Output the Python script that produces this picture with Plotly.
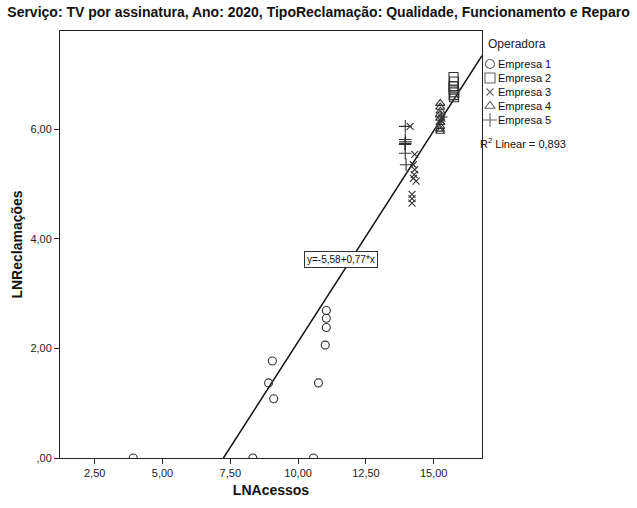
import plotly.graph_objects as go

# LN(acessos) x LN(reclamações) por operadora
empresa1_x = [3.92, 8.33, 10.57, 9.05, 8.91, 9.10, 10.75, 11.00, 11.04, 11.04, 11.04]
empresa1_y = [0.00, 0.00, 0.00, 1.77, 1.37, 1.08, 1.37, 2.06, 2.38, 2.55, 2.69]

empresa2_x = [15.73, 15.75, 15.72, 15.74, 15.76, 15.73, 15.75]
empresa2_y = [6.95, 6.87, 6.78, 6.72, 6.67, 6.62, 6.58]

empresa3_x = [14.13, 14.30, 14.25, 14.30, 14.28, 14.35, 14.25, 14.20, 14.20, 14.20, 15.30, 15.28]
empresa3_y = [6.05, 5.54, 5.35, 5.26, 5.17, 5.05, 5.10, 4.81, 4.73, 4.65, 6.20, 6.15]

empresa4_x = [15.24, 15.24, 15.25, 15.23, 15.24, 15.25, 15.24, 15.23, 15.24]
empresa4_y = [6.47, 6.40, 6.33, 6.27, 6.20, 6.12, 6.05, 6.00, 5.96]

empresa5_x = [13.95, 13.95, 13.96, 13.95, 13.94, 13.95, 13.98, 15.28]
empresa5_y = [6.05, 5.81, 5.77, 5.74, 5.72, 5.56, 5.35, 6.22]

# Reta ajustada: y = -5,58 + 0,77*x
intercepto = -5.58
inclinacao = 0.77
r2 = 0.893

x_range = [1.22, 16.78]
y_range = [0.0, 7.79]

x_ticks = [2.5, 5.0, 7.5, 10.0, 12.5, 15.0]
x_ticktext = ["2,50", "5,00", "7,50", "10,00", "12,50", "15,00"]
y_ticks = [0, 2, 4, 6]
y_ticktext = [",00", "2,00", "4,00", "6,00"]

W, H = 637, 508
cor = "#333333"
fonte = "Liberation Sans, Arial, sans-serif"

nomes = ["Empresa 1", "Empresa 2", "Empresa 3", "Empresa 4", "Empresa 5"]
dados = [(empresa1_x, empresa1_y), (empresa2_x, empresa2_y), (empresa3_x, empresa3_y),
         (empresa4_x, empresa4_y), (empresa5_x, empresa5_y)]
simbolos = ["circle-open", "square-open", "x-thin-open", "triangle-up-open", "cross-thin-open"]
tamanhos = [8, 9, 7, 8, 9]

fig = go.Figure()

# reta de regressão, do ponto em que cruza y=0 até o fim do eixo x
x0 = -intercepto / inclinacao
x1 = x_range[1]
fig.add_trace(go.Scatter(
    x=[x0, x1], y=[intercepto + inclinacao * x0, intercepto + inclinacao * x1],
    mode="lines", line=dict(color="#111111", width=1.5),
    showlegend=False, hoverinfo="skip",
))

for nome, (xs, ys), simb, tam in zip(nomes, dados, simbolos, tamanhos):
    fig.add_trace(go.Scatter(
        x=xs, y=ys, mode="markers", name=nome, showlegend=False,
        marker=dict(symbol=simb, size=tam, color=cor, line=dict(color=cor, width=1.1)),
    ))

# legenda compacta desenhada num eixo auxiliar (unidades em pixels da figura)
leg_y = [64, 78, 92, 106, 120]
fig.add_trace(go.Scatter(
    x=[490] * len(nomes), y=leg_y, xaxis="x2", yaxis="y2",
    mode="markers", showlegend=False, hoverinfo="skip",
    marker=dict(symbol=simbolos, size=[9, 10, 7, 9, 10], color="#222222",
                line=dict(color="#222222", width=1.1)),
))

anots = [
    dict(
        x=11.58, y=3.63, xref="x", yref="y",
        text="y=-5,58+0,77*x", showarrow=False,
        font=dict(family=fonte, size=10, color="#111111"),
        bgcolor="white", bordercolor="#333333", borderwidth=1, borderpad=2,
    ),
    dict(
        x=486, y=44, xref="x2", yref="y2", xanchor="left", yanchor="middle",
        text="Operadora", showarrow=False,
        font=dict(family=fonte, size=12, color="#222222"),
    ),
    dict(
        x=478, y=143, xref="x2", yref="y2", xanchor="left", yanchor="middle",
        text="R<sup>2</sup> Linear = " + f"{r2:.3f}".replace(".", ","),
        showarrow=False, font=dict(family=fonte, size=11, color="#111111"),
    ),
]
for nome, yy in zip(nomes, leg_y):
    anots.append(dict(
        x=496, y=yy, xref="x2", yref="y2", xanchor="left", yanchor="middle",
        text=nome, showarrow=False, font=dict(family=fonte, size=11, color="#111111"),
    ))

fig.update_layout(
    width=W, height=H,
    margin=dict(l=0, r=0, t=0, b=0),
    paper_bgcolor="white", plot_bgcolor="rgba(0,0,0,0)",
    showlegend=False,
    title=dict(
        text="<b>Serviço: TV por assinatura, Ano: 2020, TipoReclamação: Qualidade, Funcionamento e Reparo</b>",
        x=0.5, xref="paper", y=1 - 12 / H, yref="paper", yanchor="middle", xanchor="center",
        font=dict(family="Liberation Sans Narrow, Arial Narrow, Liberation Sans, sans-serif",
                  size=14, color="#111111"),
    ),
    xaxis=dict(
        domain=[60 / W, 482 / W], automargin=False,
        range=x_range, tickvals=x_ticks, ticktext=x_ticktext,
        showline=True, linecolor="#222222", linewidth=1, mirror=True,
        ticks="outside", ticklen=5, tickcolor="#222222",
        showgrid=False, zeroline=False,
        tickfont=dict(family=fonte, size=11, color="#222222"),
        title=dict(text="<b>LNAcessos</b>", font=dict(family=fonte, size=14, color="#111111"),
                   standoff=6),
    ),
    yaxis=dict(
        domain=[(H - 458) / H, (H - 31) / H], automargin=False,
        range=y_range, tickvals=y_ticks, ticktext=y_ticktext,
        showline=True, linecolor="#222222", linewidth=1, mirror=True,
        ticks="outside", ticklen=5, tickcolor="#222222",
        showgrid=False, zeroline=False,
        tickfont=dict(family=fonte, size=11, color="#222222"),
        title=dict(text="<b>LNReclamações</b>", font=dict(family=fonte, size=14, color="#111111"),
                   standoff=4),
    ),
    xaxis2=dict(domain=[0, 1], range=[0, W], visible=False, fixedrange=True),
    yaxis2=dict(domain=[0, 1], range=[H, 0], visible=False, fixedrange=True),
    annotations=anots,
)

fig.write_html("out.html")
